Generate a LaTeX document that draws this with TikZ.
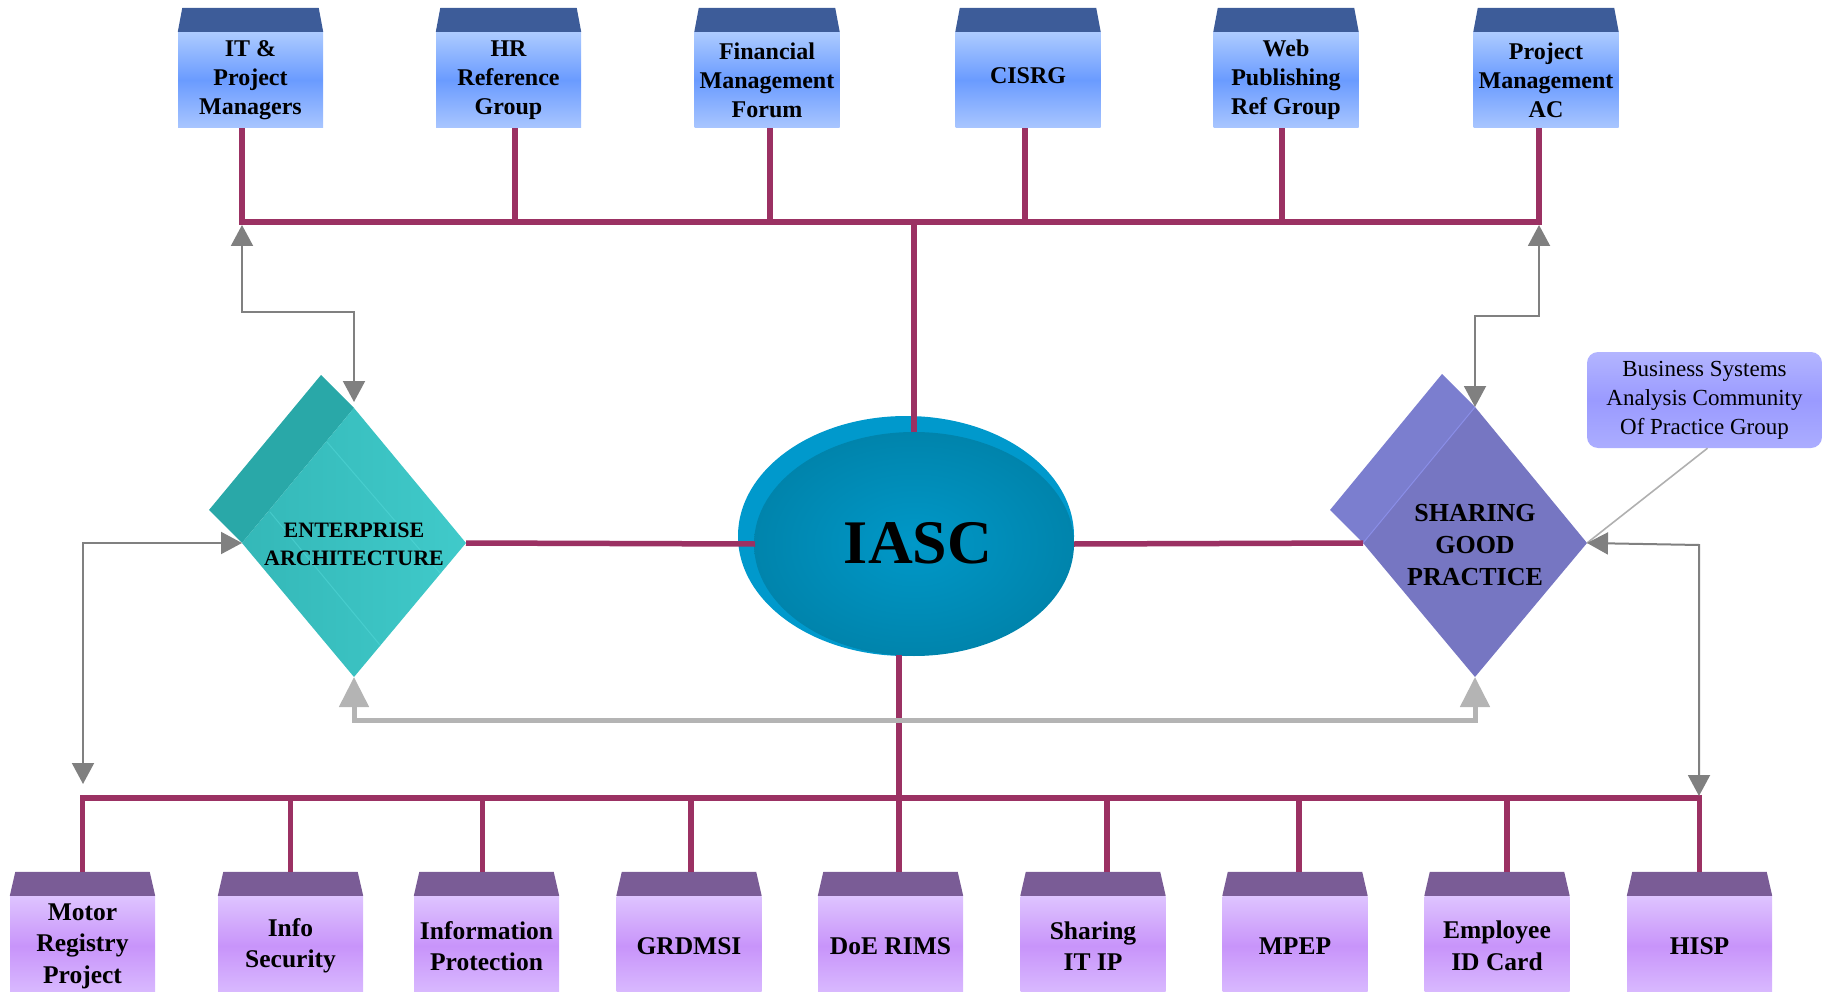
\documentclass[tikz,border=0pt]{standalone}
\usepackage{fontspec}
\setmainfont{Liberation Serif}
\usetikzlibrary{arrows.meta}
\definecolor{bus}{HTML}{9B3163}
\definecolor{tcap}{HTML}{3D5C99}
\definecolor{ttop}{HTML}{ADCBFF}
\definecolor{tmid}{HTML}{6A9BFF}
\definecolor{tbot}{HTML}{A9C6FF}
\definecolor{bcap}{HTML}{7A5C96}
\definecolor{btop}{HTML}{DEC4FF}
\definecolor{bmid}{HTML}{C894FA}
\definecolor{bbot}{HTML}{DABCFF}
\definecolor{gar}{HTML}{808080}
\definecolor{lgar}{HTML}{B4B4B4}
\definecolor{easide}{HTML}{29A8A8}
\definecolor{eafa}{HTML}{34B8B8}
\definecolor{eafb}{HTML}{40CACA}
\definecolor{ealine}{HTML}{55DADA}
\definecolor{sgside}{HTML}{7B7ECF}
\definecolor{sgfront}{HTML}{7676C2}
\definecolor{sgedge}{HTML}{8A8EE8}
\definecolor{elo}{HTML}{0099CC}
\definecolor{eli}{HTML}{0084AC}
\definecolor{elm}{HTML}{0098C8}
\definecolor{bubt}{HTML}{B3B5FF}
\definecolor{bubm}{HTML}{9A9AFF}
\definecolor{bubb}{HTML}{ABADFF}
\definecolor{bubline}{HTML}{B0B0B0}
\begin{document}
\begin{tikzpicture}[x=1pt,y=-1pt,
  tbox/.style={minimum width=145pt, minimum height=96pt, inner sep=0pt,
    top color=ttop, bottom color=tbot, middle color=tmid, align=center,
    font=\fontsize{24}{29}\selectfont\bfseries},
  bbox/.style={minimum width=145pt, minimum height=100pt, inner sep=0pt,
    top color=btop, bottom color=bbot, middle color=bmid, align=center,
    font=\fontsize{25.5}{31.5}\selectfont\bfseries},
  busline/.style={draw=bus, line width=5.5pt},
  garrow/.style={draw=gar, line width=2pt,
    {Triangle[length=21pt,width=22pt]}-{Triangle[length=21pt,width=22pt]}},
  lgarrow/.style={draw=lgar, line width=5pt,
    {Triangle[length=30pt,width=29pt]}-{Triangle[length=30pt,width=29pt]}},
  difont/.style={align=center, inner sep=0pt}
]
\path[use as bounding box] (0,0) rectangle (1823,992);
\clip (0,0) rectangle (1823,992);

% ---------- top boxes ----------
\node[tbox] (it)  at (250.5,80) {IT \&\\Project\\Managers};
\node[tbox] (hr)  at (508.5,80) {HR\\Reference\\Group};
\node[tbox] (fin) at (767,80)   {Financial\\Management\\Forum};
\node[tbox] (cis) at (1028,80)  {\raisebox{8pt}{CISRG}};
\node[tbox] (web) at (1286,80)  {Web\\Publishing\\Ref Group};
\node[tbox] (pm)  at (1546,80)  {Project\\Management\\AC};
\foreach \n in {it,hr,fin,cis,web,pm}{
  \fill[tcap] (\n.north west) -- ([xshift=4.5pt,yshift=24pt]\n.north west)
    -- ([xshift=-4.5pt,yshift=24pt]\n.north east) -- (\n.north east) -- cycle;
}

% ---------- bottom boxes ----------
\node[bbox] (mr)   at (82.5,946)  {Motor\\Registry\\Project};
\node[bbox] (is)   at (290.5,946) {Info\\Security};
\node[bbox] (ip)   at (486.5,946) {Information\\Protection};
\node[bbox] (gr)   at (689,946)   {GRDMSI};
\node[bbox] (doe)  at (890.5,946) {DoE RIMS};
\node[bbox] (sit)  at (1093,946)  {Sharing\\IT IP};
\node[bbox] (mpep) at (1295,946)  {MPEP};
\node[bbox] (emp)  at (1497,946)  {Employee\\ID Card};
\node[bbox] (hisp) at (1699.5,946){HISP};
\foreach \n in {mr,is,ip,gr,doe,sit,mpep,emp,hisp}{
  \fill[bcap] (\n.north west) -- ([xshift=5.5pt,yshift=24pt]\n.north west)
    -- ([xshift=-5.5pt,yshift=24pt]\n.north east) -- (\n.north east) -- cycle;
}
\coordinate (mrT)   at ([yshift=24pt]mr.north);
\coordinate (isT)   at ([yshift=24pt]is.north);
\coordinate (ipT)   at ([xshift=-4pt,yshift=24pt]ip.north);
\coordinate (grT)   at ([xshift=2pt,yshift=24pt]gr.north);
\coordinate (doeT)  at ([xshift=8.5pt,yshift=24pt]doe.north);
\coordinate (sitT)  at ([xshift=14pt,yshift=24pt]sit.north);
\coordinate (mpepT) at ([xshift=4pt,yshift=24pt]mpep.north);
\coordinate (empT)  at ([xshift=10pt,yshift=24pt]emp.north);
\coordinate (hispT) at ([yshift=24pt]hisp.north);

% ---------- ellipse ----------
\fill[elo] (906,536) ellipse [x radius=168, y radius=120];
\shade[inner color=elm, outer color=eli] (914,544) ellipse [x radius=160, y radius=112];
\node[font=\fontsize{62}{62}\selectfont\bfseries] (iasc) at (918,543) {IASC};
\coordinate (elT) at (914,432);
\coordinate (elL) at (755,544);
\coordinate (elR) at (1074,544);
\coordinate (elB) at (899,655);

% ---------- Enterprise Architecture diamond ----------
\coordinate (eaT) at (354,408);
\coordinate (eaR) at (466,543);
\coordinate (eaB) at (354,677);
\coordinate (eaL) at (242,543);
\fill[easide] (eaT) -- (eaL) -- (209,510) -- (321,375) -- cycle;
\shade[left color=eafa, right color=eafb] (eaT) -- (eaR) -- (eaB) -- (eaL) -- cycle;
\draw[ealine, line width=1pt, opacity=0.5] (327,442) -- (440,573);
\draw[ealine, line width=1pt, opacity=0.5] (270,512) -- (380,645);
\node[difont, font=\fontsize{22}{28}\selectfont\bfseries] (ea) at (354,544) {ENTERPRISE\\ARCHITECTURE};

% ---------- Sharing Good Practice diamond ----------
\coordinate (sgT) at (1475,407);
\coordinate (sgR) at (1587,543);
\coordinate (sgB) at (1475,677);
\coordinate (sgL) at (1363,543);
\fill[sgside] (sgT) -- (sgL) -- (1330,510) -- (1442,374) -- cycle;
\fill[sgfront] (sgT) -- (sgR) -- (sgB) -- (sgL) -- cycle;
\draw[sgedge, line width=1pt] (sgT) -- (sgL);
\node[difont, font=\fontsize{26}{32}\selectfont\bfseries] (sg) at (1475,545) {SHARING\\GOOD\\PRACTICE};

% ---------- callout ----------
\node[minimum width=235pt, minimum height=96pt, inner sep=0pt, rounded corners=11pt,
  top color=bubt, bottom color=bubb, middle color=bubm, align=center,
  font=\fontsize{23}{29}\selectfont] (bsa) at (1704.5,400)
  {Business Systems\\Analysis Community\\Of Practice Group};
\draw[bubline, line width=1.6pt] ([xshift=3pt]bsa.south) -- (sgR);

% ---------- magenta connectors ----------
\coordinate (busT) at (0,222);
\coordinate (busB) at (0,798);
\draw[busline] ([xshift=-8.5pt]it.south) -- ([xshift=-8.5pt]it.south |- busT)
   -- ([xshift=-7pt]pm.south |- busT) -- ([xshift=-7pt]pm.south);
\draw[busline] ([xshift=6.5pt]hr.south) -- ([xshift=6.5pt]hr.south |- busT);
\draw[busline] ([xshift=3pt]fin.south) -- ([xshift=3pt]fin.south |- busT);
\draw[busline] ([xshift=-3pt]cis.south) -- ([xshift=-3pt]cis.south |- busT);
\draw[busline] ([xshift=-4pt]web.south) -- ([xshift=-4pt]web.south |- busT);
\draw[busline] (elT |- busT) -- (elT);
\draw[busline] (eaR) -- (elL);
\draw[busline] (elR) -- (sgL);

\draw[busline] (mrT) -- (mrT |- busB) -- (hispT |- busB) -- (hispT);
\foreach \n in {isT,ipT,grT,sitT,mpepT,empT}{
  \draw[busline] (\n) -- (\n |- busB);
}
\draw[busline] (elB) -- (doeT);

% ---------- gray arrows ----------
\coordinate (tl) at (242,225);
\coordinate (tr) at (1539,225);
\draw[garrow] (tl) -- (242,312) -| ([yshift=6pt]eaT);
\draw[garrow] (tr) -- (1539,316) -| (sgT);
\draw[garrow] (eaL) -- (83,543) -- (83,784);
\draw[garrow] (sgR) -- (1699,545) -- (1699,796);
\draw[lgarrow] (eaB) -- (354,720) -- (1475,720) -- (sgB);
\end{tikzpicture}
\end{document}
